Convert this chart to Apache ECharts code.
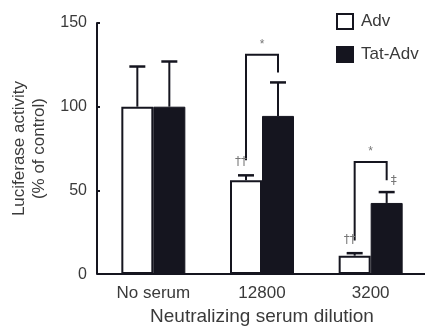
<!DOCTYPE html>
<html>
<head>
<meta charset="utf-8">
<script src="https://cdn.jsdelivr.net/npm/echarts@6/dist/echarts.min.js"></script>
<style>
  html, body { margin: 0; padding: 0; background: #fff; }
  #chart { width: 425px; height: 331px; }
</style>
</head>
<body>
<div id="chart"></div>
<script>
// categories (neutralizing serum dilution)
const categories = ['No serum', '12800', '3200']
// luciferase activity, % of control
const advValues = [100, 56, 11]
const advErrTop = [124, 59, 12.5]
const tatValues = [100, 94.5, 42.5]
const tatErrTop = [127, 114.5, 49]
// significance brackets: category index, top, lower end on Adv side, lower end on Tat side
const bracketCats = [1, 2]
const bracketTop = [131, 67]
const bracketAdvEnd = [68, 20]
const bracketTatEnd = [120.5, 56]
// symbols beside the bars
const advMarks = ['', '††', '††']
const tatMarks = ['', '', '‡']
const bracketMark = '*'
// y axis ticks
const yMin = 0
const yMax = 150
const yStep = 50

const ink = '#15151f'
const grey = '#3a3a3a'
const half = 16 // half of one bar width

const chart = echarts.init(document.getElementById('chart'))

// error bar data: [category, bar value, error top, side]
const errData = []
categories.forEach((c, i) => {
  errData.push([i, advValues[i], advErrTop[i], -1])
  errData.push([i, tatValues[i], tatErrTop[i], 1])
})

const bracketData = bracketCats.map((c, k) => [c, bracketTop[k], bracketAdvEnd[k], bracketTatEnd[k]])

const markData = []
categories.forEach((c, i) => {
  if (advMarks[i]) markData.push([i, advErrTop[i], advMarks[i], -1])
  if (tatMarks[i]) markData.push([i, tatErrTop[i], tatMarks[i], 1])
})

function renderErr(params, api) {
  const cat = api.value(0)
  const side = api.value(3)
  const base = api.coord([cat, api.value(1)])
  const top = api.coord([cat, api.value(2)])
  const x = base[0] + side * half
  return {
    type: 'group',
    children: [
      { type: 'line', shape: { x1: x, y1: base[1], x2: x, y2: top[1] }, style: { stroke: ink, lineWidth: 2 } },
      { type: 'line', shape: { x1: x - 8, y1: top[1], x2: x + 8, y2: top[1] }, style: { stroke: ink, lineWidth: 2.5 } }
    ]
  }
}

function renderBracket(params, api) {
  const cat = api.value(0)
  const top = api.coord([cat, api.value(1)])
  const a = api.coord([cat, api.value(2)])
  const t = api.coord([cat, api.value(3)])
  const xl = top[0] - half
  const xr = top[0] + half
  return {
    type: 'group',
    children: [
      {
        type: 'polyline',
        shape: { points: [[xl, a[1]], [xl, top[1]], [xr, top[1]], [xr, t[1]]] },
        style: { stroke: ink, lineWidth: 2, fill: null }
      },
      {
        type: 'text',
        x: top[0],
        y: top[1] - 4,
        style: { text: bracketMark, fill: '#777', fontSize: 12, align: 'center', verticalAlign: 'bottom', fontFamily: 'Liberation Sans' }
      }
    ]
  }
}

function renderMark(params, api) {
  const cat = api.value(0)
  const side = api.value(3)
  const p = api.coord([cat, api.value(1)])
  const text = markData[params.dataIndex][2]
  let x, y
  if (side < 0) {
    x = p[0] - half - 5
    y = p[1] - 13
  } else {
    x = p[0] + half + 7
    y = p[1] - 11
  }
  return {
    type: 'text',
    x: x,
    y: y,
    style: { text: text, fill: '#777', fontSize: 12, align: 'center', verticalAlign: 'middle', fontFamily: 'DejaVu Sans' }
  }
}

const option = {
  animation: false,
  backgroundColor: '#fff',
  textStyle: { fontFamily: 'Liberation Sans' },
  legend: {
    data: ['Adv', 'Tat-Adv'],
    orient: 'vertical',
    icon: 'rect',
    left: 331,
    top: 8,
    itemWidth: 16,
    itemHeight: 15,
    itemGap: 16,
    textStyle: { fontSize: 17, color: grey, padding: [0, 0, 0, 3] }
  },
  grid: {
    left: 99,
    top: 23,
    width: 330,
    height: 254
  },
  xAxis: {
    type: 'category',
    data: categories,
    name: 'Neutralizing serum dilution',
    nameLocation: 'middle',
    nameGap: 31,
    nameTextStyle: { fontSize: 19, color: grey },
    axisLine: { lineStyle: { color: ink, width: 2 } },
    axisTick: { inside: true, length: 4, lineStyle: { color: ink, width: 2 } },
    axisLabel: { fontSize: 17, color: grey, margin: 11 },
    splitLine: { show: false }
  },
  yAxis: {
    type: 'value',
    min: yMin,
    max: yMax,
    interval: yStep,
    offset: 2,
    name: 'Luciferase activity\n(% of control)',
    nameLocation: 'middle',
    nameRotate: 90,
    nameGap: 47,
    nameTextStyle: { fontSize: 17, color: grey, lineHeight: 20 },
    axisLine: { show: true, lineStyle: { color: ink, width: 2 } },
    axisTick: { show: true, inside: true, length: 3, lineStyle: { color: ink, width: 2 } },
    axisLabel: { fontSize: 16, color: grey, margin: 10 },
    splitLine: { show: false }
  },
  series: [
    {
      name: 'Adv',
      type: 'bar',
      data: advValues,
      barWidth: 32,
      barGap: '0%',
      itemStyle: { color: '#fff', borderColor: ink, borderWidth: 2 }
    },
    {
      name: 'Tat-Adv',
      type: 'bar',
      data: tatValues,
      barWidth: 32,
      barGap: '0%',
      itemStyle: { color: ink, borderColor: ink, borderWidth: 1 }
    },
    {
      type: 'custom',
      renderItem: renderErr,
      data: errData,
      encode: { x: 0, y: [1, 2] },
      z: 3,
      silent: true
    },
    {
      type: 'custom',
      renderItem: renderBracket,
      data: bracketData,
      encode: { x: 0, y: [1, 2, 3] },
      z: 3,
      silent: true
    },
    {
      type: 'custom',
      renderItem: renderMark,
      data: markData,
      encode: { x: 0, y: 1 },
      z: 4,
      silent: true
    }
  ]
}

chart.setOption(option)
</script>
</body>
</html>
